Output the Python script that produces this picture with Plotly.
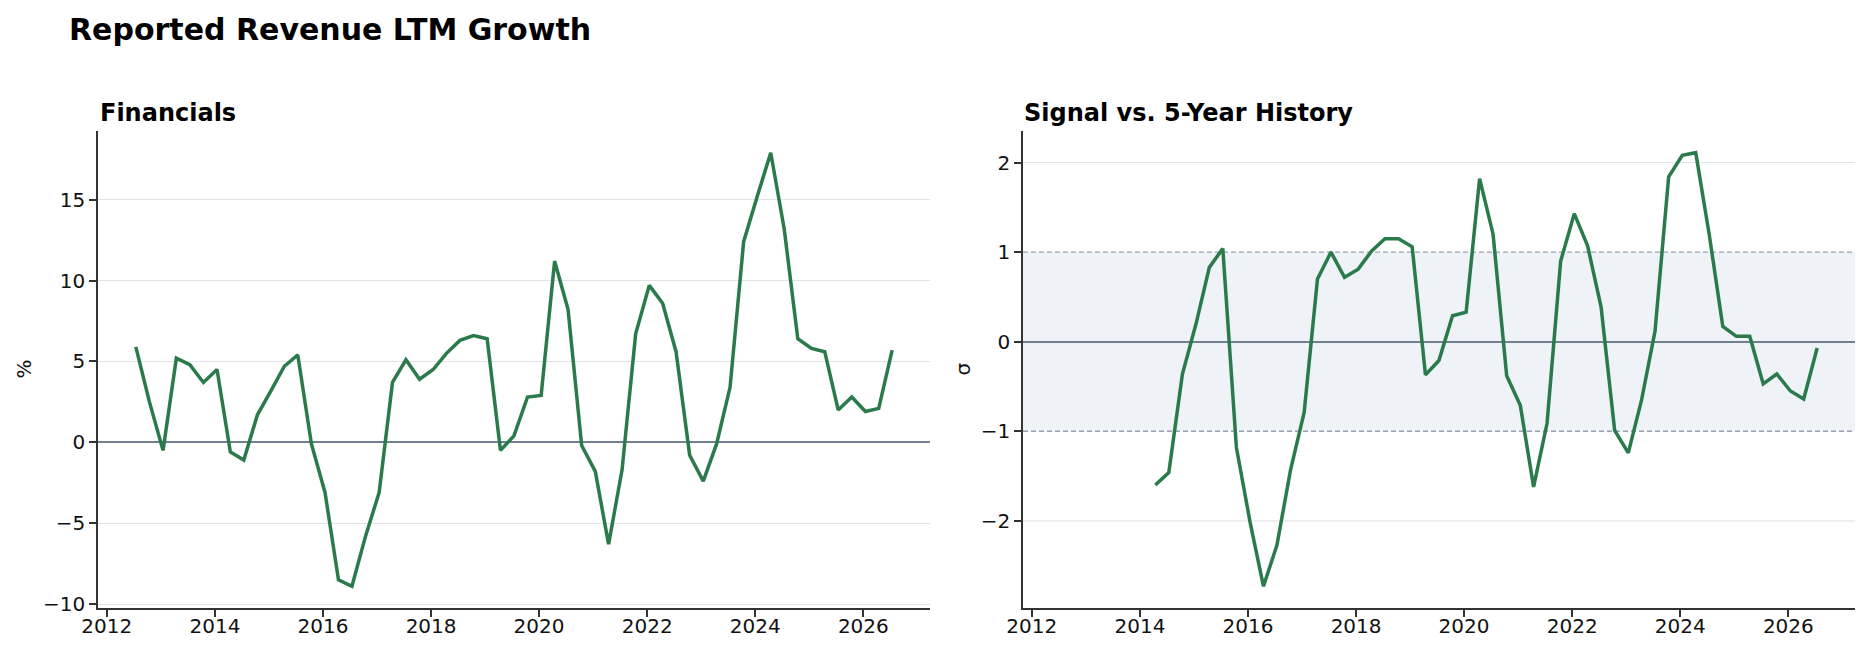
import pandas as pd
import plotly.graph_objects as go

# ---------------- data ----------------
dates = [
    "2012-07-15", "2012-10-15",
    "2013-01-15", "2013-04-15", "2013-07-15", "2013-10-15",
    "2014-01-15", "2014-04-15", "2014-07-15", "2014-10-15",
    "2015-01-15", "2015-04-15", "2015-07-15", "2015-10-15",
    "2016-01-15", "2016-04-15", "2016-07-15", "2016-10-15",
    "2017-01-15", "2017-04-15", "2017-07-15", "2017-10-15",
    "2018-01-15", "2018-04-15", "2018-07-15", "2018-10-15",
    "2019-01-15", "2019-04-15", "2019-07-15", "2019-10-15",
    "2020-01-15", "2020-04-15", "2020-07-15", "2020-10-15",
    "2021-01-15", "2021-04-15", "2021-07-15", "2021-10-15",
    "2022-01-15", "2022-04-15", "2022-07-15", "2022-10-15",
    "2023-01-15", "2023-04-15", "2023-07-15", "2023-10-15",
    "2024-01-15", "2024-04-15", "2024-07-15", "2024-10-15",
    "2025-01-15", "2025-04-15", "2025-07-15", "2025-10-15",
    "2026-01-15", "2026-04-15", "2026-07-15",
]

growth_pct = [
    5.9, 2.5, -0.5, 5.2, 4.8, 3.7, 4.5, -0.6, -1.1, 1.7,
    3.2, 4.7, 5.4, -0.1, -3.1, -8.5, -8.9, -5.8, -3.1, 3.7,
    5.1, 3.9, 4.5, 5.5, 6.3, 6.6, 6.4, -0.5, 0.4, 2.8,
    2.9, 11.2, 8.2, -0.2, -1.8, -6.3, -1.7, 6.7, 9.7, 8.6,
    5.6, -0.8, -2.4, -0.1, 3.4, 12.4, 15.2, 17.9, 13.2, 6.4,
    5.8, 5.6, 2.0, 2.8, 1.9, 2.1, 5.7,
]

signal_dates = dates[7:]
signal_z = [
    -1.60, -1.46, -0.36, 0.20, 0.83, 1.04, -1.18, -2.01, -2.73, -2.27,
    -1.43, -0.79, 0.70, 1.00, 0.72, 0.81, 1.01, 1.15, 1.15, 1.06,
    -0.37, -0.21, 0.29, 0.33, 1.82, 1.20, -0.38, -0.71, -1.62, -0.91,
    0.90, 1.43, 1.07, 0.39, -0.99, -1.24, -0.65, 0.12, 1.84, 2.08,
    2.11, 1.20, 0.17, 0.06, 0.06, -0.47, -0.36, -0.55, -0.64, -0.07,
]

year_ticks = ["2012", "2014", "2016", "2018", "2020", "2022", "2024", "2026"]
left_yticks = [-10, -5, 0, 5, 10, 15]
right_yticks = [-2, -1, 0, 1, 2]
band_levels = [-1, 1]

title = "Reported Revenue LTM Growth"
left_title = "Financials"
right_title = "Signal vs. 5-Year History"

# ---------------- style ----------------
FONT = "DejaVu Sans"
GREEN = "#2b7a4b"
SLATE = "#708090"
GRID = "#e2e2e8"
SPINE = "#333333"
BAND = "#eff2f7"
DASH = "#97a2b4"

W, H = 1869, 656
ML, MR, MT, MB = 98, 14, 131, 48
PW = W - ML - MR
PH = H - MT - MB


def pad_range(vals, frac=0.05):
    lo, hi = min(vals), max(vals)
    span = hi - lo
    return [lo - frac * span, hi + frac * span]


d0 = pd.Timestamp(dates[0])
d1 = pd.Timestamp(dates[-1])
dspan = d1 - d0
xrange = [str(d0 - dspan * 0.05), str(d1 + dspan * 0.05)]

fig = go.Figure()
fig.add_trace(go.Scatter(x=dates, y=growth_pct, mode="lines",
                         line=dict(color=GREEN, width=3.5), xaxis="x", yaxis="y",
                         showlegend=False))
fig.add_trace(go.Scatter(x=signal_dates, y=signal_z, mode="lines",
                         line=dict(color=GREEN, width=3.5), xaxis="x2", yaxis="y2",
                         showlegend=False))

left_dom = [0, (930 - ML) / PW]
right_dom = [(1023 - ML) / PW, 1]

xcommon = dict(
    type="date", range=xrange, showgrid=False, zeroline=False,
    showline=True, linecolor=SPINE, linewidth=1.6,
    ticks="outside", ticklen=7, tickwidth=1.6, tickcolor=SPINE,
    tickvals=[f"{y}-01-01" for y in year_ticks], ticktext=year_ticks,
    tickfont=dict(family=FONT, size=20, color="#111"),
    ticklabelstandoff=-8,
)
ycommon = dict(
    zeroline=True, zerolinecolor=SLATE, zerolinewidth=1.8,
    showline=True, linecolor=SPINE, linewidth=1.6,
    ticks="outside", ticklen=7, tickwidth=1.6, tickcolor=SPINE,
    tickfont=dict(family=FONT, size=20, color="#111"),
)

fig.update_layout(
    width=W, height=H,
    margin=dict(l=ML, r=MR, t=MT, b=MB),
    paper_bgcolor="white", plot_bgcolor="white",
    font=dict(family=FONT, size=20, color="#111"),
    xaxis=dict(domain=left_dom, anchor="y", **xcommon),
    xaxis2=dict(domain=right_dom, anchor="y2", **xcommon),
    yaxis=dict(anchor="x", range=pad_range(growth_pct), tickvals=left_yticks,
               showgrid=True, gridcolor=GRID, gridwidth=1, **ycommon),
    yaxis2=dict(anchor="x2", range=pad_range(signal_z), tickvals=right_yticks,
                showgrid=False, **ycommon),
)

# right panel: grid lines (drawn as shapes so the dashed band edges stay on top)
for yv in right_yticks:
    if yv != 0 and yv not in band_levels:
        fig.add_shape(type="line", xref="x2 domain", yref="y2", x0=0, x1=1, y0=yv, y1=yv,
                      line=dict(color=GRID, width=1), layer="below")
fig.add_shape(type="rect", xref="x2 domain", yref="y2", x0=0, x1=1,
              y0=band_levels[0], y1=band_levels[1],
              fillcolor=BAND, line=dict(width=0), layer="below")
for yv in band_levels:
    fig.add_shape(type="line", xref="x2 domain", yref="y2", x0=0, x1=1, y0=yv, y1=yv,
                  line=dict(color=DASH, width=1.4, dash="5px,3px"), layer="below")


def py(px):
    return (H - MB - px) / PH


def pxx(px):
    return (px - ML) / PW


fig.add_annotation(text=f"<b>{title}</b>", xref="paper", yref="paper",
                   x=pxx(67), y=py(49), xanchor="left", yanchor="bottom",
                   showarrow=False, font=dict(family=FONT, size=30, color="#000"))
fig.add_annotation(text=f"<b>{left_title}</b>", xref="paper", yref="paper",
                   x=pxx(98), y=py(129), xanchor="left", yanchor="bottom",
                   showarrow=False, font=dict(family=FONT, size=24, color="#000"))
fig.add_annotation(text=f"<b>{right_title}</b>", xref="paper", yref="paper",
                   x=pxx(1022), y=py(129), xanchor="left", yanchor="bottom",
                   showarrow=False, font=dict(family=FONT, size=24, color="#000"))
fig.add_annotation(text="%", xref="paper", yref="paper", textangle=-90,
                   x=pxx(23), y=0.5, xanchor="center", yanchor="middle",
                   showarrow=False, font=dict(family=FONT, size=20, color="#111"))
fig.add_annotation(text="σ", xref="paper", yref="paper", textangle=-90,
                   x=pxx(962), y=0.5, xanchor="center", yanchor="middle",
                   showarrow=False, font=dict(family=FONT, size=20, color="#111"))

fig.write_html("out.html")
